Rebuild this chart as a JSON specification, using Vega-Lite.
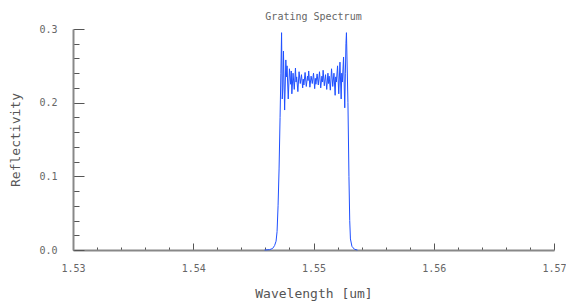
{
  "$schema": "https://vega.github.io/schema/vega-lite/v6.json",
  "autosize": "none",
  "width": 481,
  "height": 221,
  "padding": {"left": 73, "top": 29, "right": 12, "bottom": 54},
  "background": "white",
  "title": {"text": "Grating Spectrum", "font": "DejaVu Sans Mono", "fontSize": 10, "fontWeight": "normal", "color": "#666", "offset": 2, "anchor": "middle"},
  "config": {"view": {"stroke": null}},
  "data": {"values": [
    {"w": 1.545934, "r": 0.0},
    {"w": 1.546349, "r": 0.0005},
    {"w": 1.546598, "r": 0.002},
    {"w": 1.546764, "r": 0.006},
    {"w": 1.546888, "r": 0.012},
    {"w": 1.546971, "r": 0.025},
    {"w": 1.547054, "r": 0.06},
    {"w": 1.547137, "r": 0.11},
    {"w": 1.547220, "r": 0.18},
    {"w": 1.547287, "r": 0.24},
    {"w": 1.547345, "r": 0.295},
    {"w": 1.5474, "r": 0.205},
    {"w": 1.54745, "r": 0.22},
    {"w": 1.5475, "r": 0.27},
    {"w": 1.5476, "r": 0.19},
    {"w": 1.5477, "r": 0.258},
    {"w": 1.54775, "r": 0.235},
    {"w": 1.5478, "r": 0.25},
    {"w": 1.5479, "r": 0.205},
    {"w": 1.5480, "r": 0.246},
    {"w": 1.5481, "r": 0.225},
    {"w": 1.54815, "r": 0.243},
    {"w": 1.5482, "r": 0.212},
    {"w": 1.5483, "r": 0.24},
    {"w": 1.5484, "r": 0.218},
    {"w": 1.5485, "r": 0.247},
    {"w": 1.54855, "r": 0.228},
    {"w": 1.5486, "r": 0.235},
    {"w": 1.5487, "r": 0.215},
    {"w": 1.5488, "r": 0.242},
    {"w": 1.5489, "r": 0.226},
    {"w": 1.5490, "r": 0.238},
    {"w": 1.5491, "r": 0.22},
    {"w": 1.54915, "r": 0.232},
    {"w": 1.5492, "r": 0.224},
    {"w": 1.5493, "r": 0.241},
    {"w": 1.5494, "r": 0.222},
    {"w": 1.5495, "r": 0.236},
    {"w": 1.54955, "r": 0.23},
    {"w": 1.5496, "r": 0.243},
    {"w": 1.5497, "r": 0.221},
    {"w": 1.5498, "r": 0.236},
    {"w": 1.5499, "r": 0.226},
    {"w": 1.5500, "r": 0.24},
    {"w": 1.5501, "r": 0.219},
    {"w": 1.55015, "r": 0.233},
    {"w": 1.5502, "r": 0.225},
    {"w": 1.5503, "r": 0.239},
    {"w": 1.5504, "r": 0.224},
    {"w": 1.5505, "r": 0.242},
    {"w": 1.5506, "r": 0.22},
    {"w": 1.5507, "r": 0.236},
    {"w": 1.55075, "r": 0.228},
    {"w": 1.5508, "r": 0.244},
    {"w": 1.5509, "r": 0.223},
    {"w": 1.5510, "r": 0.238},
    {"w": 1.5511, "r": 0.218},
    {"w": 1.5512, "r": 0.24},
    {"w": 1.55125, "r": 0.226},
    {"w": 1.5513, "r": 0.236},
    {"w": 1.5514, "r": 0.217},
    {"w": 1.5515, "r": 0.246},
    {"w": 1.5516, "r": 0.222},
    {"w": 1.5517, "r": 0.24},
    {"w": 1.5518, "r": 0.21},
    {"w": 1.55185, "r": 0.235},
    {"w": 1.5519, "r": 0.228},
    {"w": 1.5520, "r": 0.25},
    {"w": 1.5521, "r": 0.212},
    {"w": 1.5522, "r": 0.255},
    {"w": 1.5523, "r": 0.205},
    {"w": 1.55235, "r": 0.24},
    {"w": 1.5524, "r": 0.228},
    {"w": 1.5525, "r": 0.262},
    {"w": 1.5526, "r": 0.193},
    {"w": 1.55265, "r": 0.24},
    {"w": 1.5527, "r": 0.28},
    {"w": 1.55274, "r": 0.295},
    {"w": 1.552864, "r": 0.2},
    {"w": 1.552947, "r": 0.1},
    {"w": 1.553013, "r": 0.04},
    {"w": 1.553071, "r": 0.015},
    {"w": 1.553196, "r": 0.005},
    {"w": 1.553403, "r": 0.001},
    {"w": 1.553652, "r": 0.0}
  ]},
  "mark": {"type": "line", "color": "#1f50ff", "strokeWidth": 1, "interpolate": "linear"},
  "encoding": {
    "x": {
      "field": "w", "type": "quantitative",
      "scale": {"domain": [1.53, 1.57], "nice": false, "zero": false},
      "axis": {
        "title": "Wavelength [um]",
        "titleFont": "DejaVu Sans Mono", "titleFontSize": 13, "titleFontWeight": "normal", "titleColor": "#555", "titlePadding": 10,
        "values": [1.53,1.532,1.534,1.536,1.538,1.54,1.542,1.544,1.546,1.548,1.55,1.552,1.554,1.556,1.558,1.56,1.562,1.564,1.566,1.568,1.57],
        "labelExpr": "abs(datum.value*100 - round(datum.value*100)) < 0.001 ? format(datum.value, '.2f') : ''",
        "labelFont": "DejaVu Sans Mono", "labelFontSize": 10, "labelColor": "#666", "labelPadding": 20,
        "labelFlush": false, "labelOverlap": false,
        "domainColor": "#888", "domainWidth": 2,
        "tickColor": "#555", "tickWidth": 1,
        "tickSize": {"condition": {"test": "abs(datum.value*100 - round(datum.value*100)) < 0.001", "value": -7}, "value": -3},
        "grid": false
      }
    },
    "y": {
      "field": "r", "type": "quantitative",
      "scale": {"domain": [0, 0.3], "nice": false},
      "axis": {
        "title": "Reflectivity",
        "titleFont": "DejaVu Sans Mono", "titleFontSize": 13, "titleFontWeight": "normal", "titleColor": "#555", "titlePadding": 16,
        "values": [0,0.02,0.04,0.06,0.08,0.1,0.12,0.14,0.16,0.18,0.2,0.22,0.24,0.26,0.28,0.3],
        "labelExpr": "abs(datum.value*10 - round(datum.value*10)) < 0.001 ? format(datum.value, '.1f') : ''",
        "labelFont": "DejaVu Sans Mono", "labelFontSize": 10, "labelColor": "#666", "labelPadding": 27,
        "labelOverlap": false, "labelFlush": false,
        "domainColor": "#888", "domainWidth": 2,
        "tickColor": "#555", "tickWidth": 1,
        "tickSize": {"condition": {"test": "abs(datum.value*10 - round(datum.value*10)) < 0.001", "value": -11}, "value": -6},
        "grid": false
      }
    }
  }
}
